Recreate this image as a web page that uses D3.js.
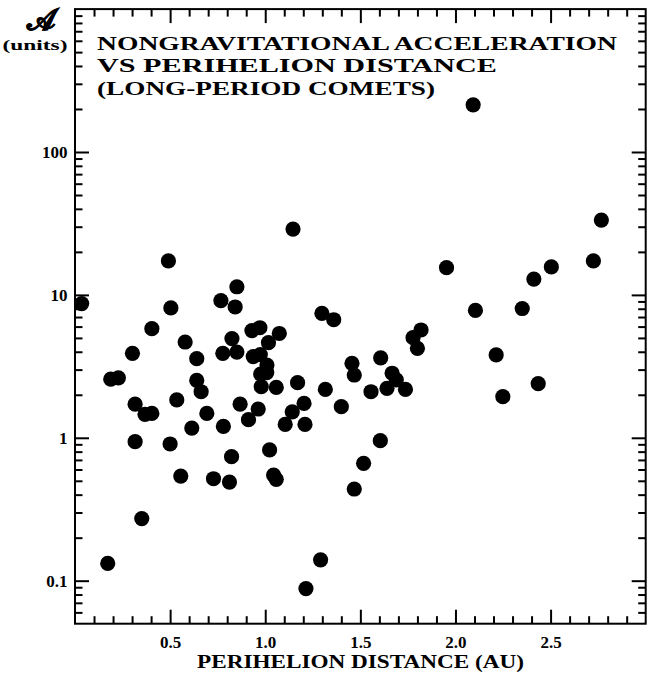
<!DOCTYPE html>
<html>
<head>
<meta charset="utf-8">
<script src="https://cdn.jsdelivr.net/npm/d3@7/dist/d3.min.js"></script>
<style>
  html, body { margin: 0; padding: 0; background: #fff; }
  svg { display: block; }
  text { font-family: "Liberation Serif", "DejaVu Serif", serif; font-weight: bold; fill: #000; }
</style>
</head>
<body>
<svg id="chart" width="647" height="673"></svg>
<script>
// Perihelion distance q (AU)
const perihelion = [
  0.035, 0.172, 0.188, 0.228, 0.302, 0.316, 0.316, 0.351, 0.368, 0.404,
  0.404, 0.491, 0.504, 0.500, 0.535, 0.556, 0.579, 0.614, 0.640, 0.640,
  0.663, 0.693, 0.728, 0.767, 0.777, 0.780, 0.812, 0.823, 0.825, 0.842,
  0.851, 0.851, 0.868, 0.912, 0.930, 0.937, 0.963, 0.972, 0.974, 0.979,
  0.976, 1.008, 1.009, 1.017, 1.023, 1.044, 1.058, 1.058, 1.074, 1.105,
  1.142, 1.146, 1.170, 1.204, 1.209, 1.214, 1.291, 1.298, 1.316, 1.360,
  1.400, 1.456, 1.468, 1.468, 1.517, 1.556, 1.605, 1.607, 1.667, 1.689,
  1.640, 1.737, 1.777, 1.819, 1.800, 1.953, 2.093, 2.105, 2.214, 2.249,
  2.351, 2.412, 2.504, 2.435, 2.725, 2.767
];
// Nongravitational acceleration A (units)
const acceleration = [
  8.7, 0.132, 2.57, 2.63, 3.90, 1.72, 0.94, 0.272, 1.46, 1.48,
  5.80, 17.3, 8.10, 0.905, 1.84, 0.54, 4.68, 1.17, 3.58, 2.52,
  2.10, 1.48, 0.517, 9.11, 3.90, 1.20, 0.49, 0.738, 4.95, 8.23,
  11.4, 3.98, 1.72, 1.34, 5.63, 3.70, 1.59, 5.89, 3.82, 2.28,
  2.79, 2.86, 3.23, 4.63, 0.822, 0.549, 0.512, 2.25, 5.37, 1.24,
  1.52, 28.9, 2.43, 1.74, 1.24, 0.088, 0.140, 7.43, 2.18, 6.70,
  1.65, 3.32, 2.75, 0.438, 0.663, 2.10, 0.955, 3.63, 2.83, 2.54,
  2.22, 2.18, 5.02, 5.68, 4.23, 15.5, 214, 7.78, 3.80, 1.94,
  8.03, 12.9, 15.7, 2.39, 17.3, 33.4
];

const xTickValues = [0.5, 1.0, 1.5, 2.0, 2.5];
const xTickLabels = ["0.5", "1.0", "1.5", "2.0", "2.5"];
const yTickValues = [0.1, 1, 10, 100];
const yTickLabels = ["0.1", "1", "10", "100"];
const titleLines = ["NONGRAVITATIONAL ACCELERATION", "VS PERIHELION DISTANCE", "(LONG-PERIOD COMETS)"];
const xTitle = "PERIHELION DISTANCE (AU)";

const svg = d3.select("#chart");
const L = 75, R = 645.7, T = 9.1, B = 623.7;

const x = d3.scaleLinear().domain([0, 3]).range([L, R]);
const y = d3.scaleLog().domain([0.05, 1000]).range([B, T]);

const xMinor = d3.range(1, 30).map(i => i / 10).filter(v => xTickValues.every(t => Math.abs(t - v) > 1e-6));
const yMinor = [];
for (let e = -2; e <= 2; e++) {
  for (let m = 2; m <= 9; m++) {
    const v = m * Math.pow(10, e);
    if (v > 0.05 + 1e-9 && v < 1000 - 1e-9) yMinor.push(v);
  }
}

const MAJ = 14, MIN = 7.5;
function styleAxis(g) {
  g.select(".domain").remove();
  g.selectAll("line").attr("stroke", "#000").attr("stroke-width", 2);
  g.selectAll("text").attr("font-size", 17).attr("fill", "#000")
    .style("font-family", '"Liberation Serif", serif').style("font-weight", "bold");
}

// bottom
svg.append("g").attr("transform", `translate(0,${B})`)
  .call(d3.axisBottom(x).tickValues(xTickValues).tickFormat((d, i) => xTickLabels[i]).tickSizeInner(-MAJ).tickSizeOuter(0).tickPadding(12.5))
  .call(styleAxis);
svg.append("g").attr("transform", `translate(0,${B})`)
  .call(d3.axisBottom(x).tickValues(xMinor).tickFormat("").tickSizeInner(-MIN).tickSizeOuter(0))
  .call(styleAxis);
// top
svg.append("g").attr("transform", `translate(0,${T})`)
  .call(d3.axisTop(x).tickValues(xTickValues).tickFormat("").tickSizeInner(-MAJ).tickSizeOuter(0))
  .call(styleAxis);
svg.append("g").attr("transform", `translate(0,${T})`)
  .call(d3.axisTop(x).tickValues(xMinor).tickFormat("").tickSizeInner(-MIN).tickSizeOuter(0))
  .call(styleAxis);
// left
svg.append("g").attr("transform", `translate(${L},0)`)
  .call(d3.axisLeft(y).tickValues(yTickValues).tickFormat((d, i) => yTickLabels[i]).tickSizeInner(-MAJ).tickSizeOuter(0).tickPadding(7.5))
  .call(styleAxis);
svg.append("g").attr("transform", `translate(${L},0)`)
  .call(d3.axisLeft(y).tickValues(yMinor).tickFormat("").tickSizeInner(-MIN).tickSizeOuter(0))
  .call(styleAxis);
// right
svg.append("g").attr("transform", `translate(${R},0)`)
  .call(d3.axisRight(y).tickValues(yTickValues).tickFormat("").tickSizeInner(-MAJ).tickSizeOuter(0))
  .call(styleAxis);
svg.append("g").attr("transform", `translate(${R},0)`)
  .call(d3.axisRight(y).tickValues(yMinor).tickFormat("").tickSizeInner(-MIN).tickSizeOuter(0))
  .call(styleAxis);

// frame
svg.append("rect").attr("x", L).attr("y", T).attr("width", R - L).attr("height", B - T)
  .attr("fill", "none").attr("stroke", "#000").attr("stroke-width", 2);

// points
svg.append("g").selectAll("circle")
  .data(perihelion.map((q, i) => [q, acceleration[i]]))
  .join("circle")
  .attr("cx", d => x(d[0]))
  .attr("cy", d => y(d[1]))
  .attr("r", 7.6)
  .attr("fill", "#000");

// title
const titleLens = [520, 400, 338];
const titleBase = [49.5, 72, 94.5];
titleLines.forEach((t, i) => {
  svg.append("text").attr("x", 97).attr("y", titleBase[i])
    .attr("font-size", 18.5).attr("textLength", titleLens[i]).attr("lengthAdjust", "spacingAndGlyphs")
    .text(t);
});

// x title
svg.append("text").attr("x", 197).attr("y", 667.5).attr("font-size", 18)
  .attr("textLength", 327).attr("lengthAdjust", "spacingAndGlyphs").text(xTitle);

// y label
svg.append("text").attr("x", 41).attr("y", 29.5).attr("text-anchor", "middle")
  .attr("font-size", 30).attr("stroke", "#000").attr("stroke-width", 0.8).text("\u{1D49C}");
svg.append("text").attr("x", 35).attr("y", 49.5).attr("text-anchor", "middle")
  .attr("font-size", 15).attr("textLength", 65).attr("lengthAdjust", "spacingAndGlyphs").text("(units)");
</script>
</body>
</html>
